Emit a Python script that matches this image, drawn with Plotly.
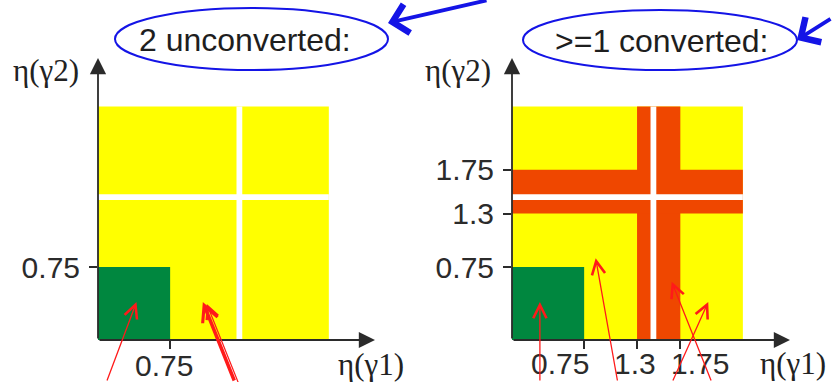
import plotly.graph_objects as go

# --- eta regions of the two photon categories (in |eta| units) ---
ETA_MAX = 2.4                 # edge of the acceptance
CRACK = (1.44, 1.50)          # barrel/end-cap transition, excluded
UNCONV_CUT = 0.75             # both photons central -> best category
CONV_BAND = (1.3, 1.75)       # conversions near the transition region

left_ticks = [0.75]
right_ticks = [0.75, 1.3, 1.75]
left_tick_text = ["0.75"]
right_tick_text = ["0.75", "1.3", "1.75"]
panel_titles = ["2 unconverted:", ">=1 converted:"]
x_title = "η(γ1)"
y_title = "η(γ2)"

YELLOW = "#ffff00"
GREEN = "#00873f"
ORANGE = "#ef4700"
WHITE = "#ffffff"
AXIS = "#2b2b2b"
RED = "#ff1a1a"
BLUE = "#1414e6"
SANS = "Liberation Sans, Arial, sans-serif"
SERIF = "Liberation Serif, Times New Roman, serif"

W, H = 832, 382


def px(x):
    return x / W


def py(y):
    return 1 - y / H


fig = go.Figure()
for xa, ya in (("x", "y"), ("x2", "y2")):
    fig.add_trace(go.Scatter(x=[None], y=[None], xaxis=xa, yaxis=ya,
                             showlegend=False, hoverinfo="skip"))


def rect(xref, yref, x0, x1, y0, y1, color):
    fig.add_shape(type="rect", xref=xref, yref=yref, x0=x0, x1=x1, y0=y0, y1=y1,
                  fillcolor=color, line=dict(width=0), layer="below")


# left: two unconverted photons
rect("x", "y", 0, ETA_MAX, 0, ETA_MAX, YELLOW)
rect("x", "y", CRACK[0], CRACK[1], 0, ETA_MAX, WHITE)
rect("x", "y", 0, ETA_MAX, CRACK[0], CRACK[1], WHITE)
rect("x", "y", 0, UNCONV_CUT, 0, UNCONV_CUT, GREEN)

# right: at least one converted photon
rect("x2", "y2", 0, ETA_MAX, 0, ETA_MAX, YELLOW)
rect("x2", "y2", CONV_BAND[0], CONV_BAND[1], 0, ETA_MAX, ORANGE)
rect("x2", "y2", 0, ETA_MAX, CONV_BAND[0], CONV_BAND[1], ORANGE)
rect("x2", "y2", CRACK[0], CRACK[1], 0, ETA_MAX, WHITE)
rect("x2", "y2", 0, ETA_MAX, CRACK[0], CRACK[1], WHITE)
rect("x2", "y2", 0, UNCONV_CUT, 0, UNCONV_CUT, GREEN)

# axes: domains placed on the page, ranges run a bit past the regions for the arrows
X_RANGES = {"x": 2.88, "x2": 2.89}
Y_RANGE = 2.9
common = dict(showgrid=False, zeroline=False, showline=False, ticks="outside",
              ticklen=8, tickwidth=1.5, tickcolor=AXIS, fixedrange=True,
              tickfont=dict(family=SANS, size=30, color=AXIS))
fig.update_layout(
    xaxis=dict(domain=[px(98), px(375)], range=[0, X_RANGES["x"]], anchor="y",
               tickvals=left_ticks, showticklabels=False, **common),
    yaxis=dict(domain=[py(340), py(58)], range=[0, Y_RANGE], anchor="x",
               tickvals=left_ticks, ticktext=left_tick_text, ticklabelstandoff=3, **common),
    xaxis2=dict(domain=[px(512), px(790)], range=[0, X_RANGES["x2"]], anchor="y2",
                tickvals=right_ticks, showticklabels=False, **common),
    yaxis2=dict(domain=[py(340), py(58)], range=[0, Y_RANGE], anchor="x2",
                tickvals=right_ticks, ticktext=right_tick_text, ticklabelstandoff=3, **common),
)

ann = []
# axis lines with arrow heads
for xa, ya in (("x", "y"), ("x2", "y2")):
    for tx, ty in ((X_RANGES[xa], 0), (0, Y_RANGE)):
        ann.append(dict(x=tx, y=ty, ax=0, ay=0, xref=xa, yref=ya, axref=xa, ayref=ya,
                        text="", showarrow=True, arrowhead=2, arrowsize=1.8,
                        arrowwidth=1.8, arrowcolor=AXIS, standoff=0, startstandoff=0))

# x tick labels, spread out so neighbouring labels do not collide
label_shift = {"x": [-6], "x2": [-24, -2, 20]}
for xa, vals, texts, ys in (("x", left_ticks, left_tick_text, -25),
                            ("x2", right_ticks, right_tick_text, -23)):
    ya = "y" if xa == "x" else "y2"
    for v, t, sh in zip(vals, texts, label_shift[xa]):
        ann.append(dict(x=v, y=0, xref=xa, yref=ya, text=t, showarrow=False,
                        xanchor="center", yanchor="middle", xshift=sh, yshift=ys,
                        font=dict(family=SANS, size=30, color=AXIS)))

# axis titles
for cx, cy, t in ((371, 364, x_title), (793, 363, x_title),
                  (46, 70, y_title), (458, 70, y_title)):
    ann.append(dict(x=px(cx), y=py(cy), xref="paper", yref="paper", text=t,
                    showarrow=False, xanchor="center", yanchor="middle",
                    font=dict(family=SERIF, size=31, color="#222222")))

# panel titles in ellipses
for cx, cy, t in ((245, 40, panel_titles[0]), (661, 41, panel_titles[1])):
    ann.append(dict(x=px(cx), y=py(cy), xref="paper", yref="paper", text=t,
                    showarrow=False, xanchor="center", yanchor="middle",
                    font=dict(family=SANS, size=32, color="#1e1e1e")))
for x0, x1, y0, y1 in ((115, 388, 8, 70), (523, 797, 10, 70)):
    fig.add_shape(type="circle", xref="paper", yref="paper",
                  x0=px(x0), x1=px(x1), y0=py(y1), y1=py(y0),
                  line=dict(color=BLUE, width=2))

# blue pointers to the titles
for tx, ty, dx, dy in ((388, 23, 100, -26), (797, 40, 45, -22)):
    ann.append(dict(x=px(tx), y=py(ty), xref="paper", yref="paper", ax=dx, ay=dy,
                    text="", showarrow=True, arrowhead=4, arrowsize=1.5,
                    arrowwidth=3.8, arrowcolor=BLUE, standoff=0))

# red pointers into the regions (tip in eta units, tail offset in pixels)
callouts = [
    ("x", "y", 0.40, 0.39, -30, 82, 1.3, 0),
    ("x", "y", 1.09, 0.39, 32, 82, 3.5, 0),
    ("x", "y", 1.09, 0.39, 32, 82, 1.2, 4),
    ("x2", "y2", 0.29, 0.39, 0, 82, 1.3, 0),
    ("x2", "y2", 0.87, 0.84, 22, 126, 1.3, 0),
    ("x2", "y2", 1.66, 0.60, 40, 102, 1.3, 0),
    ("x2", "y2", 2.04, 0.39, -36, 82, 1.3, 0),
]
for xa, ya, x, y, dx, dy, w, shift in callouts:
    ann.append(dict(x=x, y=y, xref=xa, yref=ya, ax=dx, ay=dy, text="",
                    showarrow=True, arrowhead=5, arrowsize=2.0 if w < 2 else 0.9,
                    arrowwidth=w, arrowcolor=RED, standoff=0, xshift=shift,
                    yshift=-shift / 2))

fig.update_layout(
    annotations=ann,
    width=W, height=H,
    margin=dict(l=0, r=0, t=0, b=0),
    paper_bgcolor="white", plot_bgcolor="white",
    showlegend=False,
)

fig.write_html("out.html", config={"displayModeBar": False})
